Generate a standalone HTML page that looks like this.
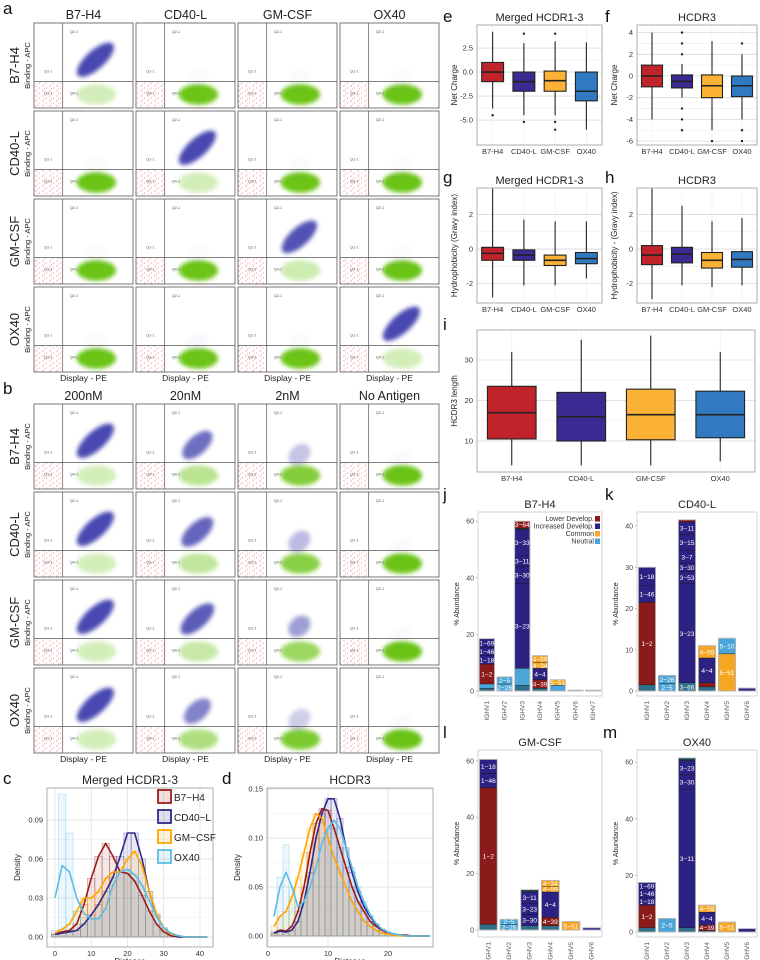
<!DOCTYPE html>
<html><head><meta charset="utf-8">
<style>
html,body{margin:0;padding:0;background:#fff;}
svg{display:block;font-family:"Liberation Sans",sans-serif;}
</style></head>
<body>
<svg id="fig" width="760" height="960" viewBox="0 0 760 960" xmlns="http://www.w3.org/2000/svg">
<defs>
<pattern id="reddots" width="7" height="5" patternUnits="userSpaceOnUse">
<circle cx="1" cy="1" r="0.5" fill="#e23"/><circle cx="4.5" cy="3" r="0.45" fill="#f55"/><circle cx="2.5" cy="4" r="0.4" fill="#e44"/>
</pattern>
<filter id="blur" x="-50%" y="-50%" width="200%" height="200%"><feGaussianBlur stdDeviation="2.2"/></filter>
</defs>
</svg>
<script>
// ===== data =====
const targets = ['B7-H4','CD40-L','GM-CSF','OX40'];
const concs = ['200nM','20nM','2nM','No Antigen'];
const aBinding = [[0.95,0.02,0.02,0.02],[0.02,0.95,0.02,0.02],[0.02,0.02,0.9,0.02],[0.02,0.03,0.02,0.95]];
const bBinding = [[0.95,0.75,0.3,0.02],[0.95,0.8,0.35,0.02],[0.95,0.85,0.5,0.02],[0.95,0.65,0.25,0.02]];
const colors = ['#9b1c1c','#2e2a8a','#ffa500','#5bbde6'];
const boxFill = ['#c0232a','#3a2a92','#fbb236','#3179c0'];
// boxplot stats: [low whisker, q1, median, q3, high whisker]
const eStats = [[-3.8,-1,0,1,4.2],[-4.5,-2,-1,0,3],[-4.5,-2,-0.9,0.1,3.2],[-6,-3,-2,0,3.1]];
const eOut = [[-4.5],[4,-5.2],[-5.2,-6,4],[]];
const fStats = [[-4,-1,0,1,4],[-2,-1.1,-0.5,0.1,1.1],[-5,-2,-0.9,0.1,3.2],[-4,-1.9,-0.9,0,2]];
const fOut = [[],[2,3,4,-3,-4,-5],[-6],[3,-5,-6]];
const gStats = [[-2.8,-0.65,-0.25,0.1,3.5],[-2.1,-0.65,-0.35,-0.05,1.7],[-2.1,-0.95,-0.65,-0.35,1.6],[-1.7,-0.85,-0.55,-0.2,1.6]];
const hStats = [[-2.9,-0.9,-0.35,0.2,3.5],[-2.1,-0.8,-0.3,0.1,2.5],[-2.2,-1.1,-0.65,-0.2,1.6],[-2.1,-1.05,-0.6,-0.15,1.8]];
const iStats = [[4,10.5,17,23.5,32],[4,10,16,22,35],[4,10.3,16.5,22.8,36],[5,10.8,16.5,22.3,32]];
// density curves
const cX = [0,2,4,6,8,10,12,14,16,18,20,22,24,26,28,30,32,34,36,38,40,42];
const cB7 = [0.002,0.004,0.005,0.01,0.025,0.045,0.062,0.072,0.062,0.05,0.049,0.043,0.032,0.02,0.01,0.004,0.001,0,0,0,0,0];
const cCD = [0.002,0.003,0.004,0.005,0.01,0.017,0.025,0.035,0.046,0.062,0.08,0.08,0.06,0.035,0.017,0.007,0.002,0,0,0,0,0];
const cGM = [0.003,0.006,0.01,0.02,0.03,0.03,0.035,0.045,0.05,0.05,0.06,0.066,0.055,0.035,0.018,0.007,0.002,0.001,0,0,0,0];
const cOX = [0.03,0.055,0.05,0.03,0.018,0.014,0.014,0.022,0.04,0.05,0.052,0.048,0.04,0.028,0.016,0.007,0.003,0.001,0,0,0,0];
const cOXhist = [0.005,0.11,0.08,0.02,0.015,0.014,0.014,0.022,0.04,0.05,0.052,0.048,0.04,0.028,0.016,0.007,0.003,0.001,0,0,0,0];
const dX = [1,2,3,4,5,6,7,8,9,10,11,12,13,14,15,16,17,18,19,20,21,22,23,24,25,26,27];
const dB7 = [0.003,0.006,0.005,0.01,0.025,0.05,0.085,0.115,0.13,0.128,0.11,0.09,0.07,0.05,0.035,0.025,0.015,0.01,0.006,0.003,0.002,0.001,0.001,0,0,0,0];
const dCD = [0.003,0.005,0.004,0.006,0.015,0.035,0.065,0.1,0.125,0.14,0.14,0.12,0.09,0.065,0.045,0.03,0.02,0.012,0.007,0.004,0.002,0.001,0,0,0,0,0];
const dGM = [0.01,0.02,0.025,0.04,0.06,0.085,0.11,0.125,0.12,0.1,0.08,0.065,0.05,0.035,0.025,0.015,0.01,0.006,0.003,0.002,0.001,0,0,0,0,0,0];
const dOX = [0.02,0.05,0.065,0.05,0.03,0.035,0.05,0.07,0.095,0.11,0.118,0.11,0.09,0.07,0.05,0.035,0.022,0.013,0.007,0.004,0.002,0.001,0,0,0,0,0];
const dOXhist = [0.005,0.06,0.093,0.05,0.03,0.035,0.05,0.07,0.095,0.11,0.118,0.11,0.09,0.07,0.05,0.035,0.022,0.013,0.007,0.004,0.002,0.001,0,0,0,0,0];
// stacked bars: segments [value, category, label]
const catColor = {N:'#4aa6d8',L:'#8b1a1a',I:'#2b2282',C:'#f5a623',D:'#1f3d4f',T:'#2f6f8c'};
const jGenes = ['IGHV1','IGHV2','IGHV3','IGHV4','IGHV5','IGHV6','IGHV7'];
const jBars = [
 [[1,'T',''],[1.5,'N',''],[7,'L','1\u22122'],[3,'I','1\u221218'],[3,'I','1\u221246'],[3,'I','1\u221269']],
 [[2.5,'N','2\u221226'],[2.5,'N','2\u22125']],
 [[2,'T',''],[6,'N',''],[30,'I','3\u221223'],[6,'I','3\u221230'],[4,'I','3\u221211'],[9,'I','3\u221233'],[0.5,'D',''],[2.5,'L','3\u221264']],
 [[1,'T',''],[3,'L','4\u221239'],[4,'I','4\u22124'],[2,'C','4\u221234'],[2.5,'C','4\u221259']],
 [[2,'N',''],[2,'C','5\u221251']],
 [[0.3,'D','']],[[0.3,'D','']]];
const kGenes = ['IGHV1','IGHV2','IGHV3','IGHV4','IGHV5','IGHV6'];
const kBars = [
 [[1.5,'T',''],[20,'L','1\u22122'],[4,'I','1\u221246'],[4.5,'I','1\u221218']],
 [[1.8,'N','2\u22125'],[2,'N','2\u221226']],
 [[2,'T','3\u221266'],[24,'I','3\u221223'],[3,'I','3\u221253'],[2,'I','3\u221230'],[3,'I','3\u22127'],[4,'I','3\u221215'],[3,'I','3\u221211'],[0.5,'L','']],
 [[1,'T',''],[1,'L',''],[6,'I','4\u22124'],[3,'C','4\u221259']],
 [[9,'C','5\u221251'],[3.8,'N','5\u221210']],
 [[0.7,'I','']]];
const lBars = [
 [[2,'T',''],[48.5,'L','1\u22122'],[5,'I','1\u221246'],[5,'I','1\u221218']],
 [[1.9,'N','2\u221226'],[1.9,'N','2\u22125']],
 [[1.5,'T',''],[4,'I','3\u221230'],[4,'I','3\u221223'],[4,'I','3\u221211'],[0.8,'D','']],
 [[1.5,'T',''],[3,'L','4\u221239'],[9,'I','4\u22124'],[2,'C','4\u221259'],[2.1,'C','4\u221234']],
 [[3,'C','5\u221251']],
 [[0.8,'I','']]];
const mBars = [
 [[1.5,'T',''],[8,'L','1\u22122'],[2.7,'I','1\u221218'],[2.7,'I','1\u221246'],[2.6,'I','1\u221269']],
 [[4.8,'N','2\u22125']],
 [[1.5,'T',''],[49,'I','3\u221211'],[5,'I','3\u221230'],[5,'I','3\u221223'],[1,'D','']],
 [[0.5,'T',''],[2,'L','4\u221239'],[4.5,'I','4\u22124'],[2.5,'C','4\u221259']],
 [[3.5,'C','5\u221251']],
 [[1.2,'I','']]];

// ===== helpers =====
const NS='http://www.w3.org/2000/svg';
const svg=document.getElementById('fig');
function mk(tag,attrs,parent){const e=document.createElementNS(NS,tag);for(const k in attrs)e.setAttribute(k,attrs[k]);(parent||svg).appendChild(e);return e;}
function txt(x,y,s,size,attrs,parent){const t=mk('text',Object.assign({x:x,y:y,'font-size':size,fill:'#222'},attrs||{}),parent);t.textContent=s;return t;}
function lin(d0,d1,r0,r1){return v=>r0+(v-d0)*(r1-r0)/(d1-d0);}

[['a',3,14],['b',3,394],['c',3,784],['d',222,784],['e',443,22],['f',605,22],['g',443,183],['h',605,183],['i',443,330],['j',443,500],['k',605,500],['l',443,738],['m',603,738]].forEach(p=>{
 const t=txt(p[1],p[2],p[0],17,{fill:'#111'});
 
 
});

// ===== flow plots =====
function flowGrid(prefix,top,rowLabels,colLabels,binding){
 const g=mk('g',{});
 
 
 const W=99,H=85,step=88;
 colLabels.forEach((c,ci)=>{
  const t=txt(34+ci*102+W/2,top-4,c,12.5,{'text-anchor':'middle'},g);
  
  
 });
 rowLabels.forEach((r,ri)=>{
  const y0=top+ri*step;
  const rl=txt(0,0,r,13,{'text-anchor':'middle',transform:`translate(19,${y0+H/2}) rotate(-90)`},g);
  
  
  const yl=txt(0,0,'Binding - APC',7.5,{'text-anchor':'middle',transform:`translate(30,${y0+H/2}) rotate(-90)`},g);
  
  
  colLabels.forEach((c,ci)=>{
   const x0=34+ci*102, b=binding[ri][ci];
   const cell=mk('g',{},g);
   
   
   const gx=x0+W*0.29, gy=y0+H*0.69;
   mk('rect',{x:x0,y:gy,width:W*0.29,height:H*0.31,fill:'url(#reddots)'},cell);
   mk('ellipse',{cx:x0+W*0.63,cy:y0+H*0.84,rx:W*0.2,ry:H*0.12,fill:'#6cc417',opacity:Math.min(1,0.25+(1-b)*0.85),filter:'url(#blur)'},cell);
   const cy=y0+H*(0.42+(1-b)*0.25);
   mk('ellipse',{cx:x0+W*0.62,cy:cy,rx:W*0.25*Math.max(0.5,b),ry:H*0.11,fill:'#3535a8',opacity:Math.max(0,b*0.95),filter:'url(#blur)',transform:`rotate(-42 ${x0+W*0.62} ${cy})`},cell);
   mk('rect',{x:x0,y:y0,width:W,height:H,fill:'none',stroke:'#555','stroke-width':0.8},cell);
   mk('line',{x1:gx,y1:y0,x2:gx,y2:y0+H,stroke:'#555','stroke-width':0.7},cell);
   mk('line',{x1:x0,y1:gy,x2:x0+W,y2:gy,stroke:'#555','stroke-width':0.7},cell);
   [['Q2-1',gx+7,y0+10],['Q1-1',x0+10,gy-9],['Q3-1',x0+10,gy+13],['Q4-1',gx+7,gy+13]].forEach(q=>{
    const t=txt(q[1],q[2],q[0],3.8,{fill:'#555'},cell);
    
    
   });
  });
 });
 colLabels.forEach((c,ci)=>{
  const t=txt(34+ci*102+W/2,top+3*step+H+9,'Display - PE',8.5,{'text-anchor':'middle'},g);
  
  
 });
}
flowGrid('a',23,targets,targets,aBinding);
flowGrid('b',404,targets,concs,bBinding);

// ===== boxplots =====
function boxplot(name,px,py,pw,ph,dom,ticks,tickFmt,stats,outs,ytitle,title,labelSize){
 const g=mk('g',{});
 
 
 const y=lin(dom[0],dom[1],py+ph,py);
 mk('rect',{x:px,y:py,width:pw,height:ph,fill:'#fff'},g);
 for(let i=0;i<ticks.length;i++){
  mk('line',{x1:px,x2:px+pw,y1:y(ticks[i]),y2:y(ticks[i]),stroke:'#d8d8d8','stroke-width':0.8},g);
  if(i<ticks.length-1){const m=(ticks[i]+ticks[i+1])/2;mk('line',{x1:px,x2:px+pw,y1:y(m),y2:y(m),stroke:'#ececec','stroke-width':0.6},g);}
  const tl=txt(px-4,y(ticks[i])+2.5,tickFmt(ticks[i]),7.5,{'text-anchor':'end',fill:'#333'},g);
  
  
 }
 const slot=pw/stats.length, bw=slot*0.7;
 stats.forEach((s,i)=>{
  const cx=px+slot*(i+0.5);
  mk('line',{x1:cx,x2:cx,y1:py,y2:py+ph,stroke:'#ececec','stroke-width':0.6},g);
  const wl=mk('line',{x1:cx,x2:cx,y1:y(s[0]),y2:y(s[4]),stroke:'#222','stroke-width':1.1},g);
  
  
  const r=mk('rect',{x:cx-bw/2,y:y(s[3]),width:bw,height:y(s[1])-y(s[3]),fill:boxFill[i],stroke:'#222','stroke-width':1.1},g);
  
  
  mk('line',{x1:cx-bw/2,x2:cx+bw/2,y1:y(s[2]),y2:y(s[2]),stroke:'#222','stroke-width':1.6},g);
  (outs?outs[i]:[]).forEach(o=>{
   const c=mk('circle',{cx:cx,cy:y(o),r:1.2,fill:'#222'},g);
   
   
  });
  const xl=txt(cx,py+ph+9,targets[i],labelSize||7.5,{'text-anchor':'middle',fill:'#333'},g);
  
  
 });
 mk('rect',{x:px,y:py,width:pw,height:ph,fill:'none',stroke:'#999','stroke-width':0.8},g);
 const yt=txt(0,0,ytitle,8,{'text-anchor':'middle',transform:`translate(${px-20},${py+ph/2}) rotate(-90)`},g);
 
 
 if(title){const t=txt(px+pw/2,py-4,title,11,{'text-anchor':'middle'},g);
  
  }
}
boxplot('net-charge-merged-boxplot',477,25,125,120,[-7.6,4.9],[-5,-2.5,0,2.5],v=>v.toFixed(1),eStats,eOut,'Net Charge','Merged HCDR1-3');
boxplot('net-charge-hcdr3-boxplot',637,25,120,120,[-6.36,4.7],[-6,-4,-2,0,2,4],v=>String(v),fStats,fOut,'Net Charge','HCDR3');
boxplot('hydrophobicity-merged-boxplot',477,188,125,115,[-3.12,3.53],[-2,0,2],v=>String(v),gStats,null,'Hydrophobicity (Gravy index)','Merged HCDR1-3');
boxplot('hydrophobicity-hcdr3-boxplot',637,188,120,115,[-3.12,3.53],[-2,0,2],v=>String(v),hStats,null,'Hydrophobicity - (Gravy index)','HCDR3');
boxplot('hcdr3-length-boxplot',477,330,278,142,[2.35,37.4],[10,20,30],v=>String(v),iStats,null,'HCDR3 length',null,7.5);

// ===== density histograms =====
function densityPlot(name,px,py,pw,ph,xd,yd,xticks,yticks,yfmt,xs,series,hists,binW,title){
 const g=mk('g',{});
 
 
 const x=lin(xd[0],xd[1],px,px+pw), y=lin(yd[0],yd[1],py+ph,py);
 yticks.forEach((t,i)=>{
  mk('line',{x1:px,x2:px+pw,y1:y(t),y2:y(t),stroke:'#ddd','stroke-width':0.7},g);
  if(i<yticks.length-1){const m=(t+yticks[i+1])/2;mk('line',{x1:px,x2:px+pw,y1:y(m),y2:y(m),stroke:'#eee','stroke-width':0.5},g);}
  const l=txt(px-4,y(t)+2.5,yfmt(t),7.5,{'text-anchor':'end',fill:'#333'},g);
  
  
 });
 xticks.forEach(t=>{
  mk('line',{x1:x(t),x2:x(t),y1:py,y2:py+ph,stroke:'#ddd','stroke-width':0.7},g);
  const l=txt(x(t),py+ph+9,String(t),7.5,{'text-anchor':'middle',fill:'#333'},g);
  
  
 });
 hists.forEach((h,si)=>{
  h.forEach((v,i)=>{
   if(v<=0)return;
   const r=mk('rect',{x:x(xs[i]-binW/2),y:y(v),width:x(binW)-x(0),height:y(0)-y(v),fill:colors[si],'fill-opacity':0.1,stroke:colors[si],'stroke-opacity':0.5,'stroke-width':0.6},g);
   
   
  });
 });
 series.forEach((s,si)=>{
  let d='';
  s.forEach((v,i)=>{d+=(i?'L':'M')+x(xs[i]).toFixed(1)+','+y(v).toFixed(1);});
  const p=mk('path',{d:d,fill:'none',stroke:colors[si],'stroke-width':1.6,'stroke-linejoin':'round'},g);
  
  
 });
 mk('rect',{x:px,y:py,width:pw,height:ph,fill:'none',stroke:'#999','stroke-width':0.8},g);
 const t=txt(px+pw/2,py-4,title,12,{'text-anchor':'middle'},g);
 
 
 const xt=txt(px+pw/2,py+ph+17,'Distance',8,{'text-anchor':'middle'},g);
 
 
 const yt=txt(0,0,'Density',8,{'text-anchor':'middle',transform:`translate(${px-27},${py+ph/2}) rotate(-90)`},g);
 
 
 return g;
}
const cg=densityPlot('merged-distance-density',47,788,166,159,[-2.2,43.6],[-0.0077,0.1146],[0,10,20,30,40],[0,0.03,0.06,0.09],v=>v.toFixed(2),cX,[cB7,cCD,cGM,cOX],[cB7,cCD,cGM,cOXhist],2,'Merged HCDR1-3');
densityPlot('hcdr3-distance-density',267,788,166,159,[-0.17,27.5],[-0.0112,0.151],[0,10,20],[0,0.05,0.1,0.15],v=>v.toFixed(2),dX,[dB7,dCD,dGM,dOX],[dB7,dCD,dGM,dOXhist],1,'HCDR3');
const lg=mk('g',{},cg);


targets.forEach((t,i)=>{
 const yy=797+i*20;
 const r=mk('rect',{x:158,y:yy-7,width:13,height:13,fill:colors[i],'fill-opacity':0.15,stroke:colors[i],'stroke-width':1.8},lg);
 
 
 const l=txt(174,yy+4,t.replace('-','\u2212'),10,{},lg);
 
 
});

// ===== stacked bars =====
function stacked(name,px,py,pw,ph,zeroY,pxPerUnit,yticks,genes,bars,title,legend){
 const g=mk('g',{});
 
 
 const y=v=>zeroY-v*pxPerUnit;
 yticks.forEach(t=>{
  const l=txt(px-4,y(t)+2.5,String(t),7,{'text-anchor':'end',fill:'#444'},g);
  
  
  mk('line',{x1:px-2,x2:px,y1:y(t),y2:y(t),stroke:'#888','stroke-width':0.6},g);
 });
 const slot=pw/genes.length, bw=slot*0.86;
 bars.forEach((segs,i)=>{
  const bx=px+slot*i+(slot-bw)/2;
  let acc=0;
  segs.forEach(s=>{
   const r=mk('rect',{x:bx,y:y(acc+s[0]),width:bw,height:s[0]*pxPerUnit,fill:catColor[s[1]],stroke:'#111','stroke-width':0.35},g);
   
   
   if(s[2]){
    const l=txt(bx+bw/2,Math.min(y(acc+s[0]/2)+2.5,y(acc)-0.5),s[2],6.6,{'text-anchor':'middle',fill:'#fff'},g);
    
    
   }
   acc+=s[0];
  });
  mk('rect',{x:bx,y:y(acc),width:bw,height:acc*pxPerUnit,fill:'none',stroke:'#bbb','stroke-width':0.9},g);
  const gl=txt(0,0,genes[i],6.5,{'text-anchor':'end',fill:'#555',transform:`translate(${bx+bw/2+2},${py+ph+5}) rotate(-90)`},g);
  
  
 });
 mk('rect',{x:px,y:py,width:pw,height:ph,fill:'none',stroke:'#ccc','stroke-width':0.8},g);
 const t=txt(px+pw/2,py-4,title,11,{'text-anchor':'middle'},g);
 
 
 const yt=txt(0,0,'% Abundance',7,{'text-anchor':'middle',transform:`translate(${px-19},${py+ph/2}) rotate(-90)`},g);
 
 
 if(legend){
  const lg=mk('g',{},g);
  
  
  [['Lower Develop.','L'],['Increased Develop.','I'],['Common','C'],['Neutral','N']].forEach((e,k)=>{
   const yy=py+9+k*7.5;
   const sw=mk('rect',{x:px+pw-7,y:yy-5,width:5,height:5.5,fill:catColor[e[1]]},lg);
   
   
   const l=txt(px+pw-8,yy,e[0],7,{'text-anchor':'end',fill:'#333'},lg);
   
   
  });
 }
}
stacked('b7h4-ighv-abundance',478,512,124,184,691,2.83,[0,20,40,60],jGenes,jBars,'B7-H4',true);
stacked('cd40l-ighv-abundance',637,512,120,184,691,4.125,[0,10,20,30,40],kGenes,kBars,'CD40-L',false);
stacked('gmcsf-ighv-abundance',478,750,124,187,930,2.82,[0,20,40,60],kGenes,lBars,'GM-CSF',false);
stacked('ox40-ighv-abundance',637,750,120,187,932,2.83,[0,20,40,60],kGenes,mBars,'OX40',false);
</script>
</body></html>
